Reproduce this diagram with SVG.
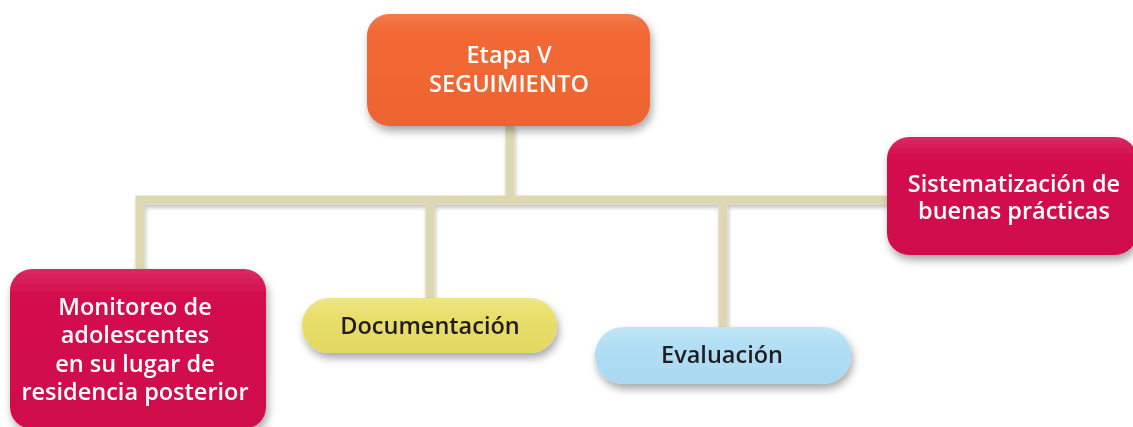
<svg xmlns="http://www.w3.org/2000/svg" width="1133" height="427" viewBox="0 0 1133 427">
<defs>
<filter id="sh" x="-10%" y="-10%" width="125%" height="140%">
<feGaussianBlur in="SourceAlpha" stdDeviation="4"/>
<feOffset dx="2" dy="5" result="b"/>
<feComponentTransfer><feFuncA type="linear" slope="0.35"/></feComponentTransfer>
<feMerge><feMergeNode/><feMergeNode in="SourceGraphic"/></feMerge>
</filter>
<filter id="lsh" x="-5%" y="-20%" width="110%" height="160%">
<feGaussianBlur in="SourceAlpha" stdDeviation="2"/>
<feOffset dx="1" dy="3"/>
<feComponentTransfer><feFuncA type="linear" slope="0.25"/></feComponentTransfer>
<feMerge><feMergeNode/><feMergeNode in="SourceGraphic"/></feMerge>
</filter>
<linearGradient id="gOr" x1="0" y1="0" x2="0" y2="1"><stop offset="0" stop-color="#F47A4C"/><stop offset="0.15" stop-color="#F26935"/><stop offset="1" stop-color="#EE6431"/></linearGradient>
<linearGradient id="gRd" x1="0" y1="0" x2="0" y2="1"><stop offset="0" stop-color="#DA2A62"/><stop offset="0.15" stop-color="#D4104E"/><stop offset="1" stop-color="#CF0E4B"/></linearGradient>
<linearGradient id="gYe" x1="0" y1="0" x2="0" y2="1"><stop offset="0" stop-color="#EEE58A"/><stop offset="0.3" stop-color="#E9DF6C"/><stop offset="1" stop-color="#E3D862"/></linearGradient>
<linearGradient id="gBl" x1="0" y1="0" x2="0" y2="1"><stop offset="0" stop-color="#C2E7F7"/><stop offset="0.3" stop-color="#B2DFF5"/><stop offset="1" stop-color="#A8D9F1"/></linearGradient>
</defs>
<style>
.ln{fill:none;stroke:#DDD8B1;stroke-width:9;stroke-linecap:butt}
.tw{font-family:"Open Sans","Noto Sans",sans-serif;font-weight:600;font-size:23.5px;fill:#FFFFFF;text-anchor:middle}
.tk{font-family:"Open Sans","Noto Sans",sans-serif;font-weight:600;font-size:23.5px;fill:#231F20;text-anchor:middle}
</style>
<g id="connectors" filter="url(#lsh)">
<path class="ln" d="M510,125 V200"/>
<path class="ln" d="M140,275 V200 H892"/>
<path class="ln" d="M430,200 V302"/>
<path class="ln" d="M723,200 V330"/>
</g>
<g id="node-etapa" filter="url(#sh)">
<rect x="367" y="14" width="283" height="112" rx="22" fill="url(#gOr)"/>
<text class="tw" x="509" y="63">Etapa V</text>
<text class="tw" x="509" y="92">SEGUIMIENTO</text>
</g>
<g id="node-sistematizacion" filter="url(#sh)">
<rect x="887" y="137" width="250" height="118" rx="22" fill="url(#gRd)"/>
<text class="tw" x="1014" y="192">Sistematización de</text>
<text class="tw" x="1014" y="219">buenas prácticas</text>
</g>
<g id="node-monitoreo" filter="url(#sh)">
<rect x="10" y="269" width="256" height="160" rx="22" fill="url(#gRd)"/>
<text class="tw" x="135" y="315">Monitoreo de</text>
<text class="tw" x="135" y="343">adolescentes</text>
<text class="tw" x="135" y="372">en su lugar de</text>
<text class="tw" x="135" y="400">residencia posterior</text>
</g>
<g id="node-documentacion" filter="url(#sh)">
<rect x="302" y="298" width="255" height="55" rx="27" fill="url(#gYe)"/>
<text class="tk" x="430" y="334">Documentación</text>
</g>
<g id="node-evaluacion" filter="url(#sh)">
<rect x="595" y="327" width="256" height="57" rx="28" fill="url(#gBl)"/>
<text class="tk" x="722" y="363">Evaluación</text>
</g>
</svg>
